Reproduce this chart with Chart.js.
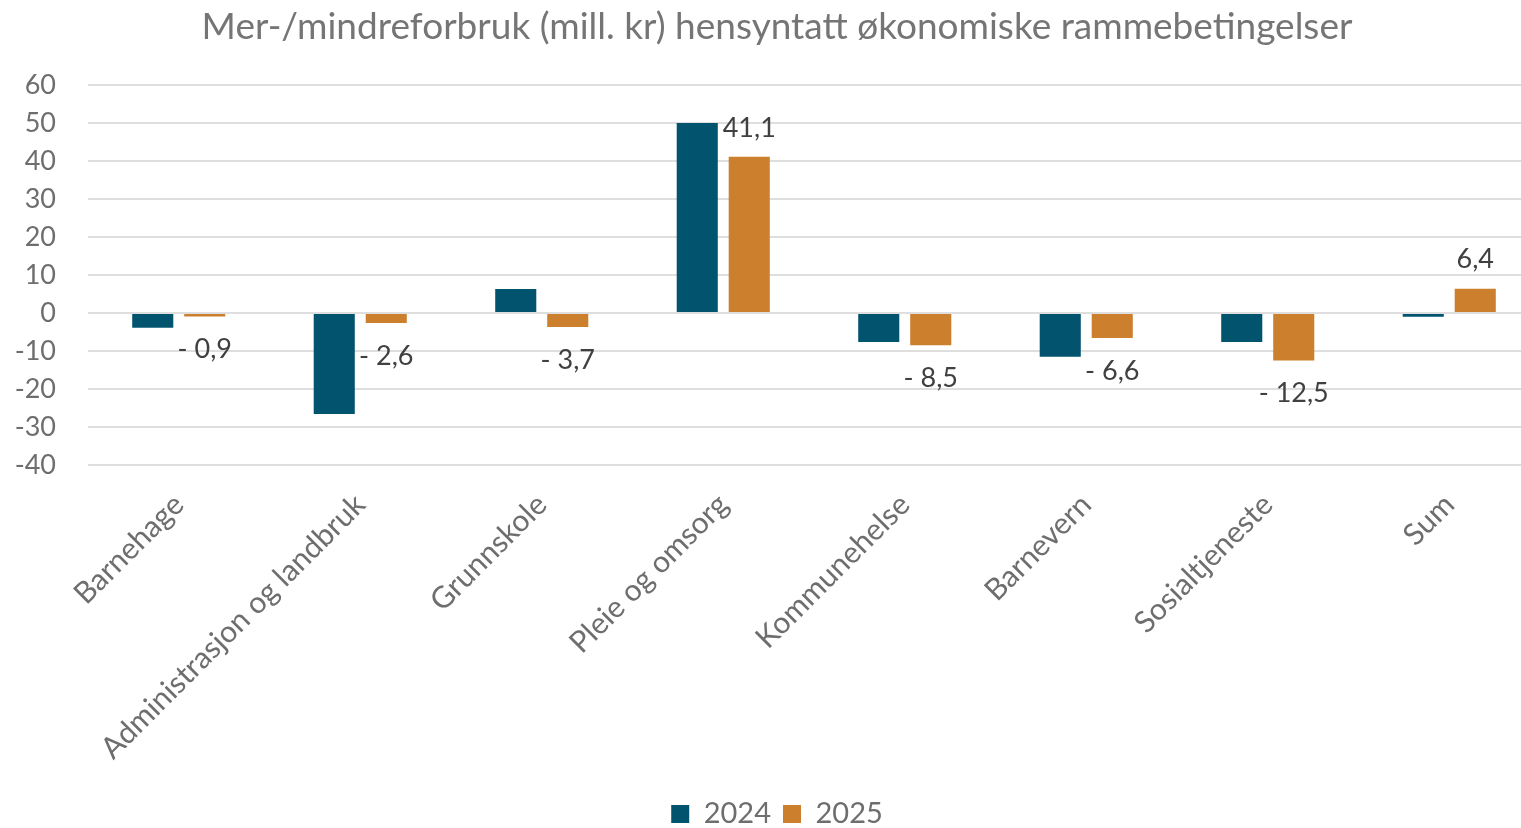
<!DOCTYPE html>
<html>
<head>
<meta charset="utf-8">
<script src="https://cdn.jsdelivr.net/npm/chart.js@4/dist/chart.umd.min.js"></script>
<style>
  html, body { margin: 0; padding: 0; background: #fff; overflow: hidden; }
  #wrap { width: 1560px; height: 828px; position: relative; }
</style>
</head>
<body>
<div id="wrap"><canvas id="budgetChart"></canvas></div>
<script>
var categories = ["Barnehage", "Administrasjon og landbruk", "Grunnskole", "Pleie og omsorg",
                  "Kommunehelse", "Barnevern", "Sosialtjeneste", "Sum"];
var values2024 = [-3.9, -26.6, 6.3, 50.0, -7.6, -11.5, -7.6, -1.0];
var values2025 = [-0.9, -2.6, -3.7, 41.1, -8.5, -6.6, -12.5, 6.4];
var yTicks = [-40, -30, -20, -10, 0, 10, 20, 30, 40, 50, 60];

var FONT = 'Lato, "Open Sans", sans-serif';

function fmt(v) {
    var s = Math.abs(v).toFixed(1).replace('.', ',');
    return v < 0 ? '- ' + s : s;
}

// value labels on the 2025 series
var valueLabels = {
    id: 'valueLabels',
    afterDatasetsDraw: function(chart) {
        var ctx = chart.ctx;
        var meta = chart.getDatasetMeta(1);
        ctx.save();
        ctx.font = '27px ' + FONT;
        ctx.fillStyle = '#404040';
        ctx.textAlign = 'center';
        ctx.textBaseline = 'middle';
        meta.data.forEach(function(bar, i) {
            var v = values2025[i];
            var y = v >= 0 ? bar.y - 29 : bar.y + 33;
            ctx.fillText(fmt(v), bar.x, y);
        });
        ctx.restore();
    }
};

var ctx = document.getElementById('budgetChart');

var myChart = new Chart(ctx, {
    type: 'bar',
    data: {
        labels: categories,
        datasets: [{
            label: '2024',
            data: values2024,
            backgroundColor: '#02546E',
            categoryPercentage: 0.573,
            barPercentage: 0.79
        }, {
            label: '2025',
            data: values2025,
            backgroundColor: '#CC7F2C',
            categoryPercentage: 0.573,
            barPercentage: 0.79
        }]
    },
    options: {
        responsive: true,
        maintainAspectRatio: false,
        animation: false,
        layout: { padding: { left: 14, right: 20, top: 0, bottom: -10.5 } },
        scales: {
            x: {
                grid: { display: false, drawTicks: false },
                border: { display: false },
                ticks: {
                    maxRotation: 45,
                    minRotation: 45,
                    autoSkip: false,
                    padding: 22,
                    color: '#6e6e6e',
                    font: { family: FONT, size: 30 }
                },
                afterFit: function(scale) { scale.height = 322.5; }
            },
            y: {
                min: -40,
                max: 60,
                afterBuildTicks: function(scale) {
                    scale.ticks = yTicks.map(function(v) { return { value: v }; });
                },
                grid: { color: '#dedede', lineWidth: 2, drawTicks: false },
                border: { display: false },
                ticks: {
                    padding: 32,
                    color: '#6e6e6e',
                    font: { family: FONT, size: 27 },
                    callback: function(v) { return String(v); }
                },
                afterFit: function(scale) { scale.width = 74; }
            }
        },
        plugins: {
            title: {
                display: true,
                text: 'Mer-/mindreforbruk (mill. kr) hensyntatt økonomiske rammebetingelser',
                color: '#757575',
                font: { family: FONT, size: 37, weight: 'normal' },
                padding: { top: 5, bottom: 35.6 }
            },
            legend: {
                display: true,
                position: 'bottom',
                labels: {
                    boxWidth: 18,
                    boxHeight: 18,
                    padding: 12,
                    color: '#6e6e6e',
                    font: { family: FONT, size: 29 }
                }
            },
            tooltip: { enabled: false }
        }
    },
    plugins: [valueLabels]
});
</script>
</body>
</html>
